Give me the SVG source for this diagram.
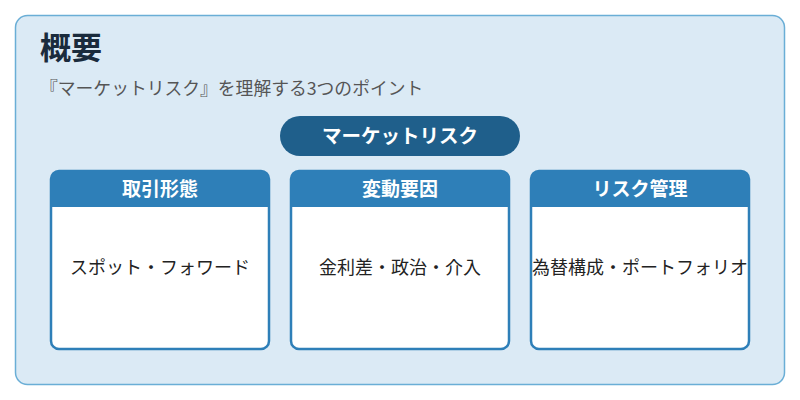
<svg xmlns="http://www.w3.org/2000/svg" width="800" height="400" viewBox="0 0 800 400">
<style>
text{font-family:"Noto Sans CJK JP","Noto Sans",sans-serif}
.card{fill:#fff;stroke:#2e7fb8;stroke-width:2.5}
.hd{fill:#2e7fb8}
.ht{fill:#fff;font-size:19px;font-weight:bold;text-anchor:middle}
.bt{fill:#222;font-size:18px;text-anchor:middle}
</style>
<rect x="15.5" y="15.5" width="769" height="369" rx="12" fill="#dbeaf5" stroke="#6aaed6" stroke-width="1.5"/>
<text x="40" y="59" font-size="31" font-weight="bold" fill="#1a2b3c">概要</text>
<text x="40" y="95" font-size="17.8" fill="#555">『マーケットリスク』を理解する3つのポイント</text>
<g id="center">
<rect x="280" y="116" width="240" height="40" rx="20" fill="#1f5f8b"/>
<text x="400" y="143" font-size="19.5" font-weight="bold" fill="#fff" text-anchor="middle">マーケットリスク</text>
</g>
<g id="connectors"></g>
<g id="n1">
<rect class="card" x="51" y="171" width="218" height="178" rx="8"/>
<path class="hd" d="M51 179a8 8 0 0 1 8-8h202a8 8 0 0 1 8 8v28H51z"/>
<text class="ht" x="160" y="196">取引形態</text>
<text class="bt" x="160" y="274">スポット・フォワード</text>
</g>
<g id="n2">
<rect class="card" x="291" y="171" width="218" height="178" rx="8"/>
<path class="hd" d="M291 179a8 8 0 0 1 8-8h202a8 8 0 0 1 8 8v28H291z"/>
<text class="ht" x="400" y="196">変動要因</text>
<text class="bt" x="400" y="274">金利差・政治・介入</text>
</g>
<g id="n3">
<rect class="card" x="531" y="171" width="218" height="178" rx="8"/>
<path class="hd" d="M531 179a8 8 0 0 1 8-8h202a8 8 0 0 1 8 8v28H531z"/>
<text class="ht" x="640" y="196">リスク管理</text>
<text class="bt" x="640" y="274">為替構成・ポートフォリオ</text>
</g>
</svg>
